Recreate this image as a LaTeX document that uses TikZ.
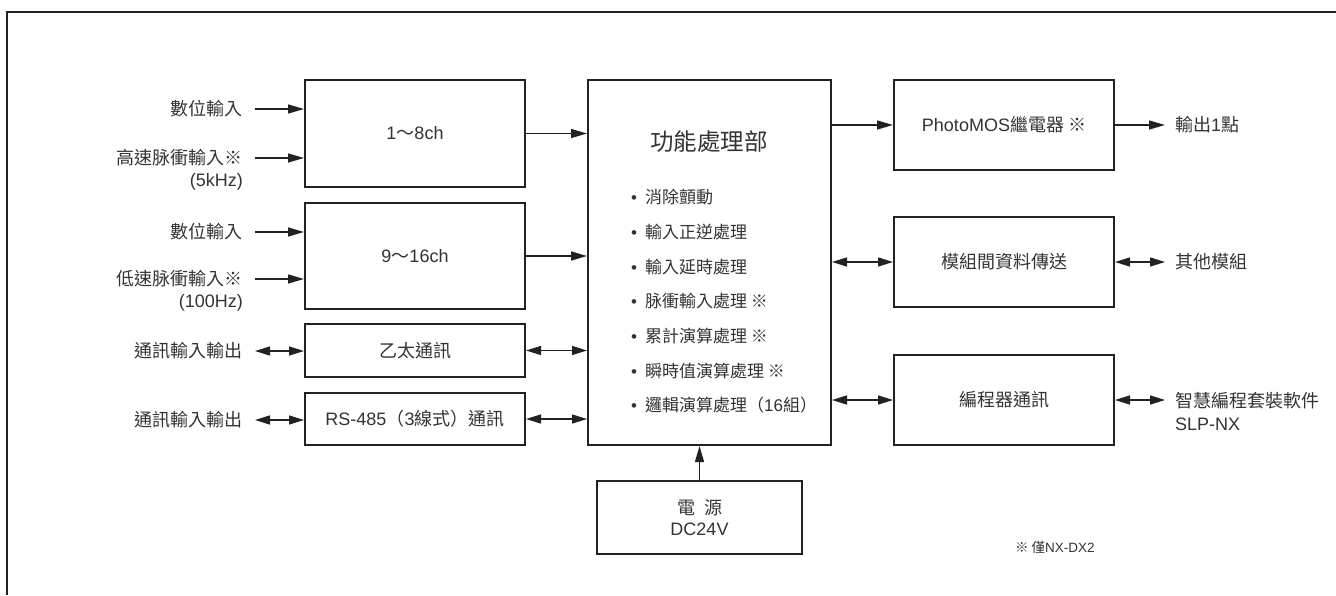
\documentclass[tikz,border=0pt]{standalone}
\usepackage{fontspec}
\setmainfont{Liberation Sans}
\newfontfamily\cjkf{Noto Sans CJK TC}
\newcommand\zh[1]{{\cjkf #1}}
\usetikzlibrary{arrows.meta}
\definecolor{ink}{HTML}{222222}
\definecolor{txt}{HTML}{333333}
\begin{document}
\begin{tikzpicture}[x=1pt,y=-1pt,
  blk/.style={draw=ink,line width=2pt,fill=white,text=txt,font=\fontsize{18}{20}\selectfont,inner sep=0pt},
  lbl/.style={text=txt,font=\fontsize{18}{20}\selectfont,inner sep=0pt},
  item/.style={text=txt,font=\fontsize{17}{19}\selectfont,inner sep=0pt,anchor=west},
  arr/.style={draw=ink,line width=1.4pt,-{Triangle[length=16pt,width=9pt]}},
  darr/.style={draw=ink,line width=1.4pt,{Triangle[length=15pt,width=9pt]}-{Triangle[length=15pt,width=9pt]}}]
\useasboundingbox (0,0) rectangle (1336,595);
\draw[ink,line width=1.5pt] (7,595) -- (7,12) -- (1336,12);

% left boxes
\node[blk,minimum width=220pt,minimum height=107pt] (A) at (415,133.5) {1\zh{～}8ch};
\node[blk,minimum width=220pt,minimum height=106pt] (B) at (415,256) {9\zh{～}16ch};
\node[blk,minimum width=220pt,minimum height=53pt] (C) at (415,350.5) {\zh{乙太通訊}};
\node[blk,minimum width=220pt,minimum height=52pt] (D) at (415,419) {RS-485\zh{（}3\zh{線式）通訊}};

% main box
\node[blk,minimum width=243pt,minimum height=365pt] (M) at (709.5,262.5) {};
\node[text=txt,font=\fontsize{23.5}{26}\selectfont,inner sep=0pt] (Mt) at (709,142) {\zh{功能處理部}};
\node[item] (i1) at (631,197) {\textbullet\hspace{8pt}\zh{消除顫動}};
\node[item] (i2) at (631,232) {\textbullet\hspace{8pt}\zh{輸入正逆處理}};
\node[item] (i3) at (631,267) {\textbullet\hspace{8pt}\zh{輸入延時處理}};
\node[item] (i4) at (631,301) {\textbullet\hspace{8pt}\zh{脉衝輸入處理 ※}};
\node[item] (i5) at (631,336) {\textbullet\hspace{8pt}\zh{累計演算處理 ※}};
\node[item] (i6) at (631,371) {\textbullet\hspace{8pt}\zh{瞬時值演算處理 ※}};
\node[item] (i7) at (631,405) {\textbullet\hspace{8pt}\zh{邏輯演算處理（}16\zh{組）}};

% right boxes
\node[blk,minimum width=220pt,minimum height=90pt] (P) at (1004,125) {PhotoMOS\zh{繼電器 ※}};
\node[blk,minimum width=220pt,minimum height=90pt] (T) at (1004,262) {\zh{模組間資料傳送}};
\node[blk,minimum width=220pt,minimum height=90pt] (G) at (1004,400) {\zh{編程器通訊}};

% power
\node[blk,minimum width=205pt,minimum height=73pt,align=center] (W) at (699.5,517.5) {\zh{電\hspace{9pt}源}\\[1pt]DC24V};

% left labels
\node[lbl,anchor=east] (l1) at (243,109) {\zh{數位輸入}};
\node[lbl,anchor=east] (l2) at (243,158) {\zh{高速脉衝輸入※}};
\node[lbl,anchor=east] (l2b) at (243,182) {(5kHz)};
\node[lbl,anchor=east] (l3) at (243,232) {\zh{數位輸入}};
\node[lbl,anchor=east] (l4) at (243,279) {\zh{低速脉衝輸入※}};
\node[lbl,anchor=east] (l4b) at (243,303) {(100Hz)};
\node[lbl,anchor=east] (l5) at (243,351) {\zh{通訊輸入輸出}};
\node[lbl,anchor=east] (l6) at (243,420) {\zh{通訊輸入輸出}};
\coordinate (s1) at (255,109);
\coordinate (s2) at (255,158);
\coordinate (s3) at (255,232);
\coordinate (s4) at (255,279);
\coordinate (s5) at (255,351);
\coordinate (s6) at (255,420);
\draw[arr] (s1) -- (s1 -| A.west);
\draw[arr] (s2) -- (s2 -| A.west);
\draw[arr] (s3) -- (s3 -| B.west);
\draw[arr] (s4) -- (s4 -| B.west);
\draw[darr] (s5) -- (s5 -| C.west);
\draw[darr] (s6) -- (s6 -| D.west);

% to main
\draw[arr] (A.east) -- (A.east -| M.west);
\draw[arr] (B.east) -- (B.east -| M.west);
\draw[darr] (C.east) -- (C.east -| M.west);
\draw[darr] (D.east) -- (D.east -| M.west);
\draw[arr] (P.west -| M.east) -- (P.west);
\draw[darr] (T.west -| M.east) -- (T.west);
\draw[darr] (G.west -| M.east) -- (G.west);
\draw[arr] (W.north) -- (W.north |- M.south);

% right labels
\node[lbl,anchor=west] (r1) at (1175,125) {\zh{輸出}1\zh{點}};
\node[lbl,anchor=west] (r2) at (1175,262) {\zh{其他模組}};
\node[lbl,anchor=west] (r3) at (1175,401) {\zh{智慧編程套裝軟件}};
\node[lbl,anchor=west] (r3b) at (1175,424) {SLP-NX};
\coordinate (o1) at (1165,125);
\coordinate (o2) at (1165,262);
\coordinate (o3) at (1165,400);
\draw[arr] (P.east) -- (o1);
\draw[darr] (T.east) -- (o2);
\draw[darr] (G.east) -- (o3);

\node[text=txt,font=\fontsize{13.5}{15}\selectfont,inner sep=0pt,anchor=west] (note) at (1015,547) {\zh{※ 僅}NX-DX2};
\end{tikzpicture}
\end{document}
